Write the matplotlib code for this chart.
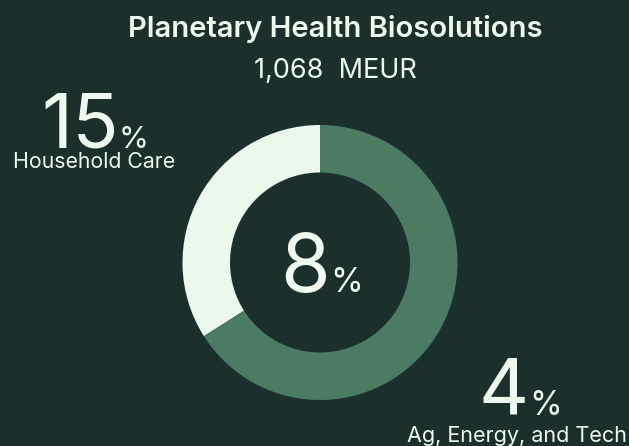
import matplotlib
matplotlib.use("Agg")
import matplotlib.pyplot as plt

# ---- data ----
title = "Planetary Health Biosolutions"
subtitle = "1,068  MEUR"
segments = ["Household Care", "Ag, Energy, and Tech"]
shares = [34, 66]          # share of the ring
growth = ["15", "4"]       # organic growth per segment, %
total_growth = "8"

BG = "#1b302c"
LIGHT = "#ebf9ea"
DARK = "#4b7c62"
TXT = "#eefaec"

plt.rcParams["font.family"] = ["Inter", "DejaVu Sans"]

W, H = 629, 446
fig = plt.figure(figsize=(W / 100, H / 100), dpi=100, facecolor=BG)
ax = fig.add_axes([0, 0, 1, 1])
ax.set_facecolor(BG)

cx, cy, r = 320, H - 262.5, 137.5
ax.pie(shares, colors=[LIGHT, DARK], startangle=90, counterclock=True,
       center=(cx, cy), radius=r,
       wedgeprops=dict(width=47.5, linewidth=0))
ax.set_xlim(0, W)
ax.set_ylim(0, H)
ax.set_aspect("equal")
ax.axis("off")

def y(py):
    return H - py

ax.text(335, y(37), title, ha="center", va="baseline", color=TXT,
        fontsize=21, fontweight="semibold")
ax.text(335, y(78), subtitle, ha="center", va="baseline", color=TXT,
        fontsize=19.5)

def pct(xr, yb, num, big, small):
    ax.text(xr, yb, num, ha="right", va="baseline", color=TXT, fontsize=big)
    ax.text(xr, yb, "%", ha="left", va="baseline", color=TXT, fontsize=small)

pct(119, y(148), growth[0], 55, 22)
ax.text(94, y(168), segments[0], ha="center", va="baseline", color=TXT, fontsize=15.3)

pct(330, y(292), total_growth, 58, 24)

pct(529, y(415), growth[1], 56, 24)
ax.text(517, y(442), segments[1], ha="center", va="baseline", color=TXT, fontsize=15.5)

fig.savefig("out.png", dpi=100, facecolor=BG)
